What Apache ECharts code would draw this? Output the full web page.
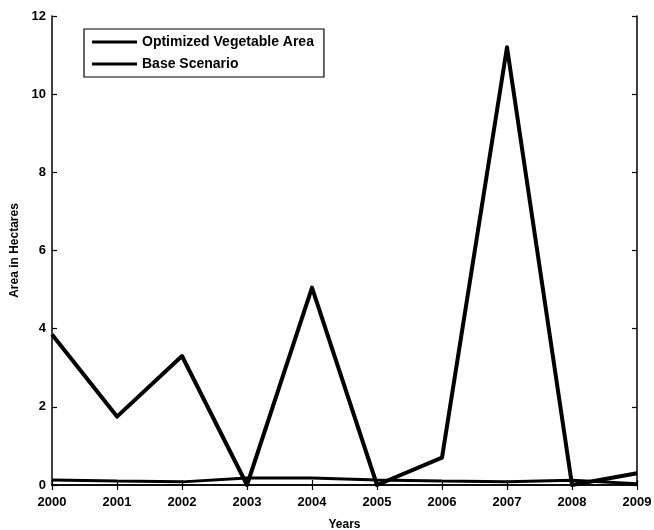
<!DOCTYPE html>
<html>
<head>
<meta charset="utf-8">
<script src="https://cdn.jsdelivr.net/npm/echarts@6/dist/echarts.min.js"></script>
<style>
html,body{margin:0;padding:0;background:#fff;}
#chart{width:654px;height:530px;}
</style>
</head>
<body>
<div id="chart"></div>
<script>
const years = ['2000','2001','2002','2003','2004','2005','2006','2007','2008','2009'];
const optimizedArea = [3.85, 1.75, 3.3, 0.0, 5.05, 0.0, 0.7, 11.2, 0.0, 0.3];
const baseScenario = [0.13, 0.1, 0.08, 0.18, 0.18, 0.13, 0.1, 0.08, 0.12, 0.03];
const yTicks = [0, 2, 4, 6, 8, 10, 12];

const font = 'Liberation Sans, Arial, sans-serif';
const chart = echarts.init(document.getElementById('chart'));
const axisLine = {show: true, lineStyle: {color: '#000', width: 1.5}};
const tick = {show: true, inside: true, length: 5, lineStyle: {color: '#000', width: 1.2}};
chart.setOption({
  backgroundColor: '#fff',
  animation: false,
  grid: {left: 52, right: 17, top: 16, bottom: 45, containLabel: false, outerBoundsMode: 'none'},
  legend: {
    orient: 'vertical',
    left: 84, top: 29,
    backgroundColor: '#fff',
    borderColor: '#000', borderWidth: 1.2, borderRadius: 0,
    padding: [6, 10, 6, 8],
    itemWidth: 45, itemHeight: 14, itemGap: 8,
    textStyle: {fontFamily: font, fontSize: 14, fontWeight: 'bold', color: '#000'},
    data: [
      {name: 'Optimized Vegetable Area', icon: 'path://M0,5.5 L45,5.5 L45,8.5 L0,8.5 Z'},
      {name: 'Base Scenario', icon: 'path://M0,5.5 L45,5.5 L45,8.5 L0,8.5 Z'}
    ]
  },
  xAxis: [{
    type: 'category', data: years, boundaryGap: false,
    name: 'Years', nameLocation: 'middle', nameGap: 34,
    nameTextStyle: {fontFamily: font, fontSize: 12, fontWeight: 'bold', color: '#000'},
    axisLine: axisLine, axisTick: Object.assign({alignWithLabel: true}, tick),
    axisLabel: {fontFamily: font, fontSize: 13, fontWeight: 'bold', color: '#000', margin: 11, interval: 0},
    splitLine: {show: false}
  }, {
    type: 'category', data: years, boundaryGap: false, position: 'top',
    axisLine: axisLine, axisTick: tick, axisLabel: {show: false}, splitLine: {show: false}
  }],
  yAxis: [{
    type: 'value', min: 0, max: 12, interval: 2,
    name: 'Area in Hectares', nameLocation: 'middle', nameGap: 31,
    nameTextStyle: {fontFamily: font, fontSize: 12, fontWeight: 'bold', color: '#000'},
    axisLine: axisLine, axisTick: tick,
    axisLabel: {fontFamily: font, fontSize: 13, fontWeight: 'bold', color: '#000', margin: 6,
      formatter: v => yTicks.includes(v) ? String(v) : ''},
    splitLine: {show: false}
  }, {
    type: 'value', min: 0, max: 12, interval: 2, position: 'right',
    axisLine: axisLine, axisTick: tick, axisLabel: {show: false}, splitLine: {show: false}
  }],
  series: [{
    name: 'Optimized Vegetable Area', type: 'line', data: optimizedArea,
    symbol: 'none', color: '#000',
    lineStyle: {color: '#000', width: 4, join: 'round'}
  }, {
    name: 'Base Scenario', type: 'line', data: baseScenario,
    symbol: 'none', color: '#000',
    lineStyle: {color: '#000', width: 3}
  }]
});
</script>
</body>
</html>
